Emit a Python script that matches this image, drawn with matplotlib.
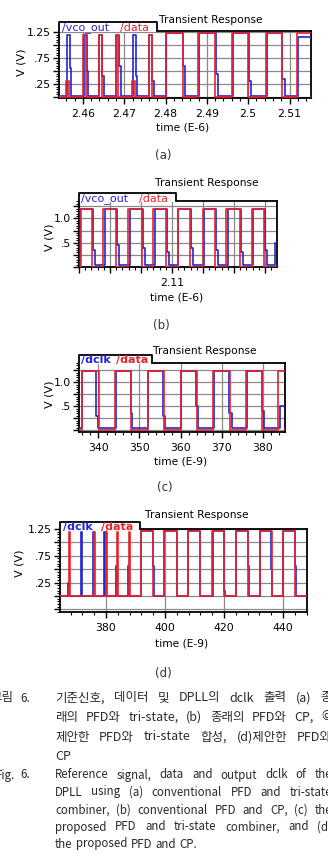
import matplotlib
matplotlib.use('Agg')
import matplotlib.pyplot as plt
from matplotlib.ticker import MultipleLocator, FuncFormatter
from matplotlib.patches import Rectangle
from matplotlib.lines import Line2D

# ---- data ----
# (a) time in E-6; data pulses (on, off, peak), vco_out pulses (on, off, low_at, peak, step)
a_data = [(2.4558, 2.4566, 0.30), (2.4600, 2.4607, 1.20), (2.4638, 2.4645, 1.20),
          (2.4679, 2.4686, 1.20), (2.4719, 2.4726, 0.30), (2.4759, 2.4766, 1.20),
          (2.4800, 2.4841, 1.23), (2.4878, 2.4920, 1.23), (2.4960, 2.5000, 1.23),
          (2.5043, 2.5082, 1.23), (2.5117, 2.5200, 1.23)]
a_vco = [(2.4561, 2.4568, 2.4571, 1.20, 0.55), (2.4603, 2.4609, 2.4613, 1.20, 0.50),
         (2.4640, 2.4647, 2.4651, 1.20, 0.40), (2.4681, 2.4688, 2.4692, 1.20, 0.60),
         (2.4721, 2.4728, 2.4731, 1.20, 0.40), (2.4761, 2.4767, 2.4772, 1.20, 0.30),
         (2.4802, 2.4842, 2.4847, 1.23, 0.60), (2.4881, 2.4922, 2.4926, 1.23, 0.45),
         (2.4962, 2.5002, 2.5006, 1.23, 0.30), (2.5045, 2.5083, 2.5088, 1.23, 0.35),
         (2.5121, 2.5200, 2.5200, 1.15, 1.15)]

# (b) time in E-6
b_data = [(2.0806, 2.0841, 1.20), (2.0878, 2.0918, 1.20), (2.0959, 2.1002, 1.20),
          (2.1038, 2.1080, 1.20), (2.1118, 2.1158, 1.20), (2.1199, 2.1239, 1.20),
          (2.1276, 2.1319, 1.20), (2.1357, 2.1398, 1.20)]
b_vco = [(2.0802, 2.0846, 2.0852, 1.20, 0.35), (2.0884, 2.0922, 2.0928, 1.20, 0.45),
         (2.0964, 2.1005, 2.1012, 1.20, 0.40), (2.1044, 2.1083, 2.1089, 1.20, 0.30),
         (2.1121, 2.1161, 2.1167, 1.20, 0.40), (2.1205, 2.1242, 2.1248, 1.20, 0.35),
         (2.1282, 2.1322, 2.1328, 1.20, 0.30), (2.1361, 2.1401, 2.1407, 1.20, 0.35),
         (2.1433, 2.1500, 2.1500, 0.50, 0.50)]

# (c) time in E-9
c_data = [(336.0, 340.1, 1.23), (344.1, 348.0, 1.23), (352.0, 356.0, 1.23),
          (360.0, 364.0, 1.23), (368.0, 372.0, 1.23), (376.0, 379.9, 1.23),
          (383.8, 390.0, 1.23)]
c_dclk = [(336.1, 339.5, 339.9, 1.23, 0.30), (344.2, 347.9, 348.3, 1.23, 0.35),
          (352.2, 355.8, 356.3, 1.23, 0.30), (360.2, 363.7, 364.2, 1.23, 0.50),
          (368.2, 371.9, 372.4, 1.23, 0.35), (376.1, 379.7, 380.2, 1.23, 0.40),
          (384.1, 390.0, 390.0, 0.50, 0.50)]

# (d) time in E-9
d_data = [(367.4, 367.7, 1.20), (375.9, 376.2, 1.20), (379.9, 380.2, 1.20),
          (383.8, 384.1, 1.20), (387.8, 388.1, 1.20),
          (391.7, 395.8, 1.22), (399.8, 403.9, 1.22), (407.9, 412.0, 1.22),
          (416.0, 420.0, 1.22), (424.0, 428.1, 1.22), (432.1, 436.2, 1.22),
          (440.1, 444.2, 1.22)]
d_dclk = [(367.1, 367.3, 367.3, 0.25, 0.25), (371.5, 371.8, 371.8, 1.20, 1.20),
          (375.6, 375.9, 375.9, 1.20, 1.20), (379.3, 379.5, 379.5, 1.20, 1.20),
          (383.5, 383.7, 383.7, 0.55, 0.55), (387.5, 387.8, 387.8, 0.55, 0.55),
          (391.8, 396.0, 396.2, 1.22, 0.55), (399.6, 404.0, 404.0, 1.22, 1.22),
          (407.9, 411.7, 411.9, 1.22, 0.55), (416.3, 420.0, 420.2, 1.22, 0.10),
          (424.2, 428.2, 428.4, 1.22, 0.55), (432.1, 436.0, 436.4, 1.22, 0.50),
          (440.1, 444.0, 444.3, 1.22, 0.55)]

caption_ko = ["기준신호, 데이터 및 DPLL의 dclk 출력 (a) 종",
              "래의 PFD와 tri-state, (b) 종래의 PFD와 CP, ©",
              "제안한 PFD와 tri-state 합성, (d)제안한 PFD와",
              "CP"]
caption_en = ["Reference signal, data and output dclk of the",
              "DPLL using (a) conventional PFD and tri-state",
              "combiner, (b) conventional PFD and CP, (c) the",
              "proposed PFD and tri-state combiner, and (d)",
              "the proposed PFD and CP."]

RED = '#e8232b'
BLUE = '#2424d2'
GRID = '#8a8a8a'
W, H = 328, 858

fig = plt.figure(figsize=(W / 100, H / 100), dpi=100)


def fx(x):
    return x / W


def fy(y):
    return 1 - y / H


def red_wave(pulses, lo, t0, t1):
    t, v = [t0], [lo]
    for on, off, peak in pulses:
        t += [on, on, off, off]
        v += [lo, peak, peak, lo]
    t.append(t1)
    v.append(lo)
    return t, v


def blue_wave(pulses, lo, t0, t1):
    t, v = [t0], [lo]
    for on, off, low_at, peak, step in pulses:
        t += [on, on, off, off, low_at, low_at]
        v += [lo, peak, peak, step, step, lo]
    t.append(t1)
    v.append(lo)
    return t, v


def panel(l, t, r, b, xlim, ylim, red, blue, red_lo, blue_lo, xmaj, xmin, xfmt, ylabels):
    ax = fig.add_axes([fx(l), fy(b), fx(r) - fx(l), fy(t) - fy(b)])
    bt, bv = blue_wave(blue, blue_lo, xlim[0], xlim[1])
    rt, rv = red_wave(red, red_lo, xlim[0], xlim[1])
    ax.plot(bt, bv, color=BLUE, lw=1.2, zorder=3)
    ax.plot(rt, rv, color=RED, lw=1.2, zorder=4)
    ax.set_xlim(*xlim)
    ax.set_ylim(*ylim)
    ax.xaxis.set_major_locator(MultipleLocator(xmaj))
    ax.xaxis.set_minor_locator(MultipleLocator(xmin))
    ax.xaxis.set_major_formatter(FuncFormatter(xfmt))
    ax.yaxis.set_major_locator(MultipleLocator(0.25))
    ax.yaxis.set_minor_locator(MultipleLocator(0.05))
    ax.yaxis.set_major_formatter(FuncFormatter(lambda v, p: ylabels.get(round(v, 2), '')))
    ax.grid(True, which='major', color=GRID, lw=0.9)
    ax.set_axisbelow(True)
    for s in ax.spines.values():
        s.set_linewidth(1.3)
    ax.tick_params(which='major', length=4, width=1, labelsize=7.8, pad=2)
    ax.tick_params(which='minor', length=2, width=0.8)
    ax.tick_params(axis='x', which='major', pad=4)
    return ax


def tab(l, r, top, bottom, items):
    fig.add_artist(Rectangle((fx(l), fy(bottom + 1)), fx(r) - fx(l), fy(top) - fy(bottom + 1),
                             facecolor='white', edgecolor='none',
                             transform=fig.transFigure, zorder=5))
    fig.add_artist(Line2D([fx(l), fx(l), fx(r), fx(r)], [fy(bottom), fy(top), fy(top), fy(bottom)],
                          color='black', lw=1.3, transform=fig.transFigure, zorder=6))
    for x, y, s, c, wt in items:
        fig.text(fx(x), fy(y), s, color=c, fontsize=8, fontweight=wt,
                 ha='left', va='center', zorder=7)


def ftext(x, y, s, size=7.7, **kw):
    fig.text(fx(x), fy(y), s, fontsize=size, ha='center', va='center', **kw)


lab_a = {1.25: '1.25', 0.75: '.75', 0.25: '.25'}
lab_b = {1.0: '1.0', 0.5: '.5'}

# (a)
panel(59, 31, 311, 98, (2.4542, 2.5152), (-0.02, 1.27), a_data, a_vco, 0.0, 0.02,
      0.01, 0.002, lambda v, p: f'{v:g}', lab_a)
tab(59, 157, 22, 31, [(62, 28, '/vco_out', BLUE, 'normal'), (120, 28, '/data', RED, 'normal')])
ftext(211, 20, 'Transient Response')
ftext(183, 127, 'time (E-6)')
ftext(22, 62, 'V (V)', size=8, rotation=90)
ftext(163, 156, '(a)', size=8.5, color='#333333')

# (b)
panel(79, 201, 277, 267, (2.08, 2.1439), (0.0, 1.36), b_data, b_vco, 0.0, 0.04,
      0.01, 0.002, lambda v, p: '2.11' if abs(v - 2.11) < 1e-6 else '', lab_b)
tab(79, 176, 193, 201, [(81, 199, '/vco_out', BLUE, 'normal'), (139, 199, '/data', RED, 'normal')])
ftext(207, 183, 'Transient Response')
ftext(177, 298, 'time (E-6)')
ftext(50, 237, 'V (V)', size=8, rotation=90)
ftext(161, 325, '(b)', size=8.5, color='#333333')

# (c)
panel(79, 363, 285, 432, (335.3, 385.4), (-0.04, 1.40), c_data, c_dclk, 0.0, 0.04,
      10, 2, lambda v, p: f'{v:g}', lab_b)
tab(79, 152, 355, 363, [(81, 360, '/dclk', BLUE, 'bold'), (116, 360, '/data', RED, 'bold')])
ftext(205, 351, 'Transient Response')
ftext(181, 462, 'time (E-9)')
ftext(50, 394, 'V (V)', size=8, rotation=90)
ftext(165, 487, '(c)', size=8.5, color='#333333')

# (d)
panel(60, 529, 307, 612, (364.4, 448.1), (-0.30, 1.25), d_data, d_dclk, 0.0, 0.0,
      20, 4, lambda v, p: f'{v:g}', lab_a)
tab(60, 140, 522, 529, [(63, 527, '/dclk', BLUE, 'bold'), (101, 527, '/data', RED, 'bold')])
ftext(197, 515, 'Transient Response')
ftext(182, 643, 'time (E-9)')
ftext(20, 563, 'V (V)', size=8, rotation=90)
ftext(163, 673, '(d)', size=8.5, color='#333333')

# caption, justified between x0 and x1
FAM = ['Noto Sans CJK KR', 'DejaVu Sans']
renderer = fig.canvas.get_renderer()


def cap(x, y, s, size):
    return fig.text(fx(x), fy(y), s, fontsize=size, color='#2a2a2a', family=FAM,
                    va='center', ha='left')


def justify(line, y, size, x0=55, x1=332, last=False):
    words = line.split(' ')
    arts = [cap(0, y, w, size) for w in words]
    widths = [a.get_window_extent(renderer).width for a in arts]
    if last or len(words) == 1:
        gap = size * 100 / 72 * 0.3
    else:
        gap = (x1 - x0 - sum(widths)) / (len(words) - 1)
    x = x0
    for a, w in zip(arts, widths):
        a.set_x(fx(x))
        x += w + gap


cap(-10, 698, '그림', 9)
cap(20, 698, '6.', 8.5)
ko_y = [698, 717, 737, 757]
for i, (line, y) in enumerate(zip(caption_ko, ko_y)):
    justify(line, y, 9, last=(i == len(caption_ko) - 1))

cap(-4, 775, 'Fig.', 8.3)
cap(20, 775, '6.', 8.3)
en_y = [775, 792, 810, 827, 844]
for i, (line, y) in enumerate(zip(caption_en, en_y)):
    justify(line, y, 8.3, last=(i == len(caption_en) - 1))

fig.savefig('out.png', dpi=100)
